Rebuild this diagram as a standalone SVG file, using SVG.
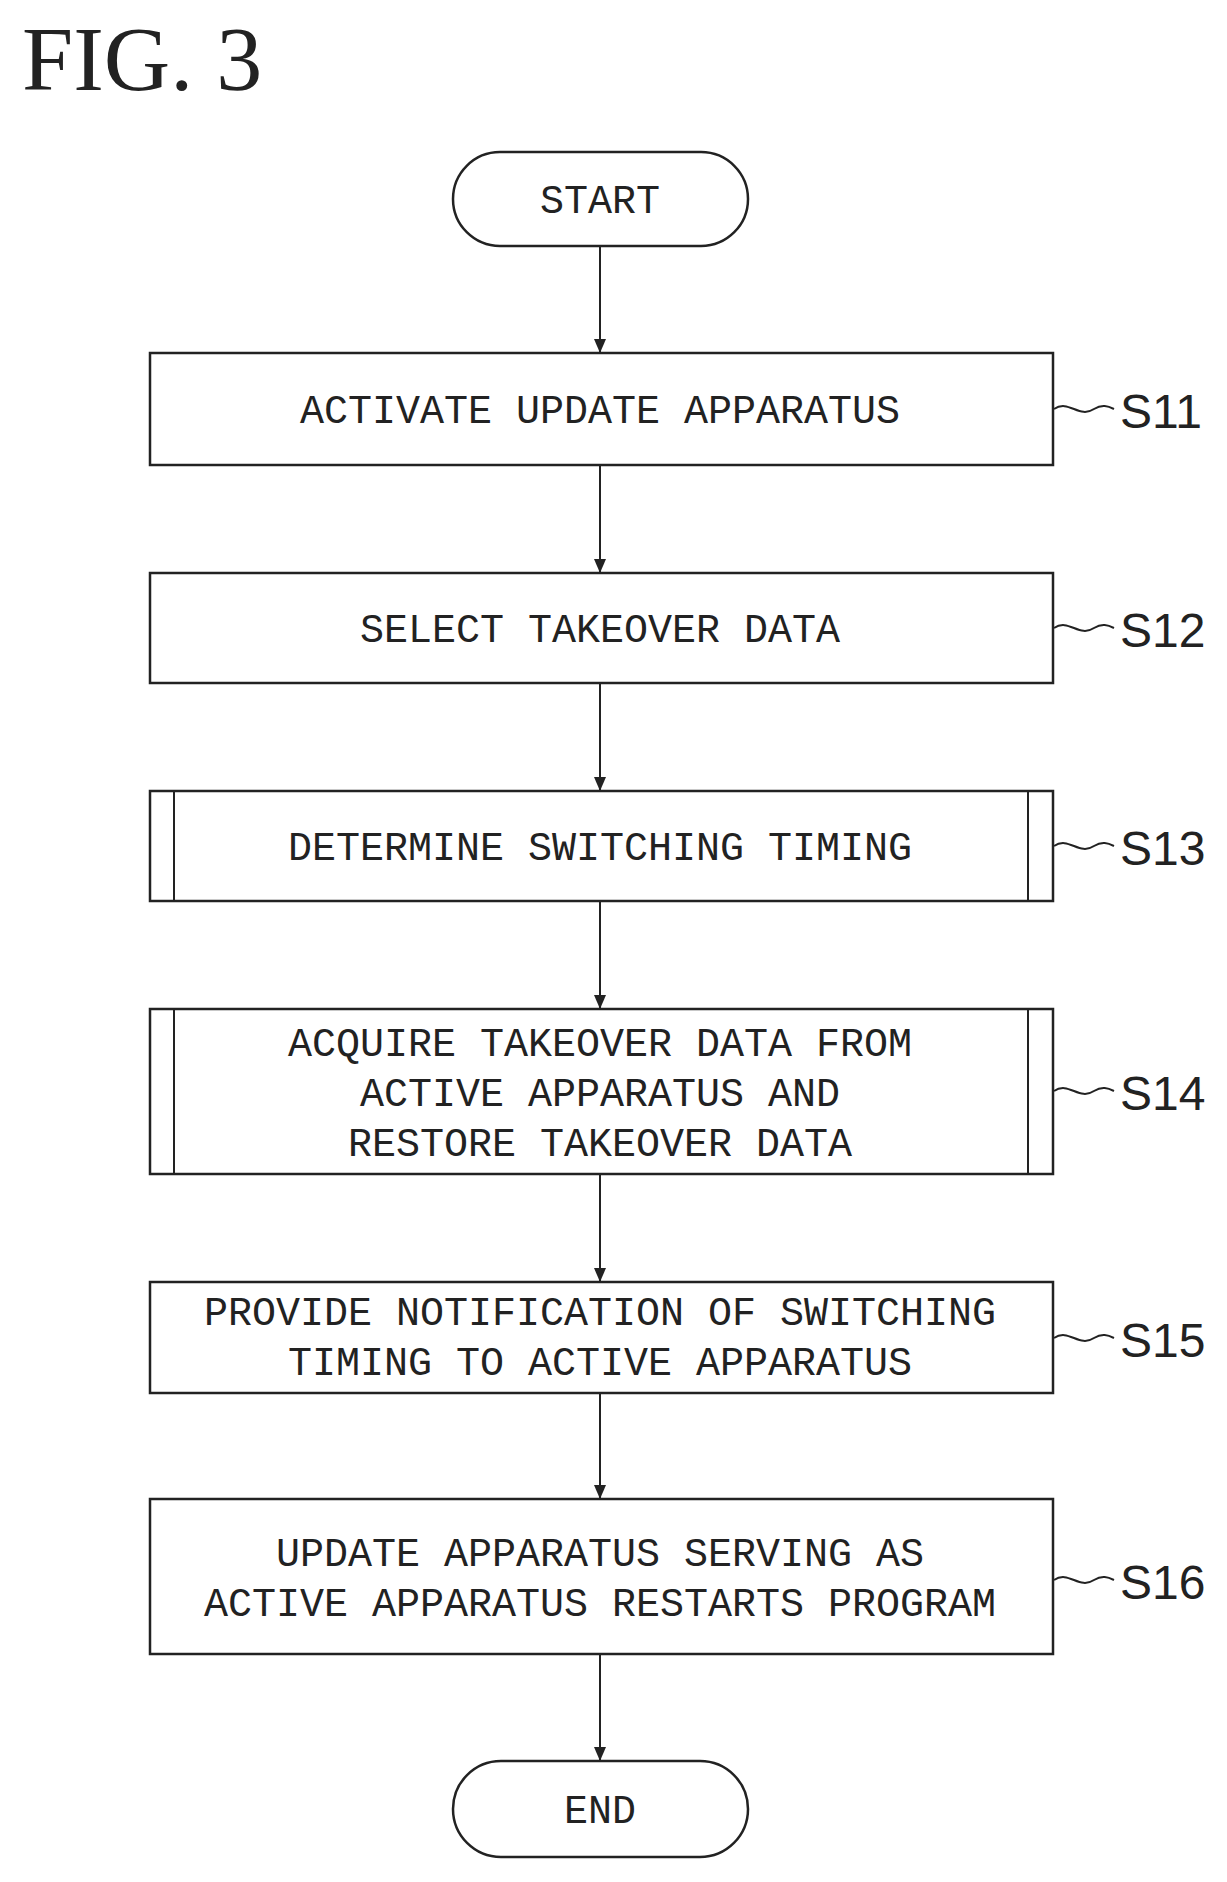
<svg xmlns="http://www.w3.org/2000/svg" width="1227" height="1882" viewBox="0 0 1227 1882">
<style>
.b{fill:#fff;stroke:#222;stroke-width:2.5}
.t{font-family:"Liberation Mono",monospace;font-size:40px;text-anchor:middle;fill:#222}
.s{font-family:"Liberation Sans",sans-serif;font-size:48px;fill:#222}
.c{stroke:#222;stroke-width:2;fill:none}
</style>
<defs><marker id="a" markerWidth="14" markerHeight="12" refX="14" refY="6" orient="auto" markerUnits="userSpaceOnUse"><path d="M0,0 L14,6 L0,12 Z" fill="#222"/></marker></defs>
<text x="22" y="90" font-family="Liberation Serif,serif" font-size="92" fill="#222">FIG.  3</text>
<g id="connectors">
<line class="c" x1="600" y1="246" x2="600" y2="353" marker-end="url(#a)"/>
<line class="c" x1="600" y1="465" x2="600" y2="573" marker-end="url(#a)"/>
<line class="c" x1="600" y1="683" x2="600" y2="791" marker-end="url(#a)"/>
<line class="c" x1="600" y1="901" x2="600" y2="1009" marker-end="url(#a)"/>
<line class="c" x1="600" y1="1174" x2="600" y2="1282" marker-end="url(#a)"/>
<line class="c" x1="600" y1="1393" x2="600" y2="1499" marker-end="url(#a)"/>
<line class="c" x1="600" y1="1654" x2="600" y2="1761" marker-end="url(#a)"/>
</g>
<g id="start"><rect class="b" x="453" y="152" width="295" height="94" rx="47"/><text class="t" x="600" y="213">START</text></g>
<g id="s11"><rect class="b" x="150" y="353" width="903" height="112"/><text class="t" x="600" y="423">ACTIVATE UPDATE APPARATUS</text>
<path class="c" d="M1054,409 c15,-10 25,10 40,0 c8,-5 14,-3 20,0"/><text class="s" x="1120" y="428">S11</text></g>
<g id="s12"><rect class="b" x="150" y="573" width="903" height="110"/><text class="t" x="600" y="642">SELECT TAKEOVER DATA</text>
<path class="c" d="M1054,628 c15,-10 25,10 40,0 c8,-5 14,-3 20,0"/><text class="s" x="1120" y="647">S12</text></g>
<g id="s13"><rect class="b" x="150" y="791" width="903" height="110"/><line class="c" x1="174" y1="791" x2="174" y2="901"/><line class="c" x1="1028" y1="791" x2="1028" y2="901"/><text class="t" x="600" y="860">DETERMINE SWITCHING TIMING</text>
<path class="c" d="M1054,846 c15,-10 25,10 40,0 c8,-5 14,-3 20,0"/><text class="s" x="1120" y="865">S13</text></g>
<g id="s14"><rect class="b" x="150" y="1009" width="903" height="165"/><line class="c" x1="174" y1="1009" x2="174" y2="1174"/><line class="c" x1="1028" y1="1009" x2="1028" y2="1174"/>
<text class="t" x="600" y="1056">ACQUIRE TAKEOVER DATA FROM</text><text class="t" x="600" y="1106">ACTIVE APPARATUS AND</text><text class="t" x="600" y="1156">RESTORE TAKEOVER DATA</text>
<path class="c" d="M1054,1091 c15,-10 25,10 40,0 c8,-5 14,-3 20,0"/><text class="s" x="1120" y="1110">S14</text></g>
<g id="s15"><rect class="b" x="150" y="1282" width="903" height="111"/>
<text class="t" x="600" y="1325">PROVIDE NOTIFICATION OF SWITCHING</text><text class="t" x="600" y="1375">TIMING TO ACTIVE APPARATUS</text>
<path class="c" d="M1054,1338 c15,-10 25,10 40,0 c8,-5 14,-3 20,0"/><text class="s" x="1120" y="1357">S15</text></g>
<g id="s16"><rect class="b" x="150" y="1499" width="903" height="155"/>
<text class="t" x="600" y="1566">UPDATE APPARATUS SERVING AS</text><text class="t" x="600" y="1616">ACTIVE APPARATUS RESTARTS PROGRAM</text>
<path class="c" d="M1054,1580 c15,-10 25,10 40,0 c8,-5 14,-3 20,0"/><text class="s" x="1120" y="1599">S16</text></g>
<g id="end"><rect class="b" x="453" y="1761" width="295" height="96" rx="48"/><text class="t" x="600" y="1823">END</text></g>
</svg>
